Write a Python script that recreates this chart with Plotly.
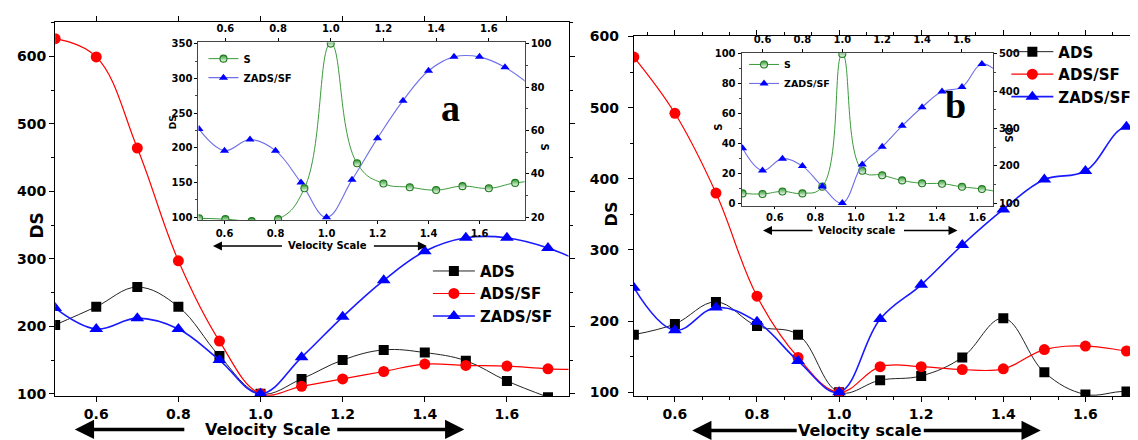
import plotly.graph_objects as go

W, H = 1138, 440

# ---------------- data ----------------
velocity = [0.5, 0.6, 0.7, 0.8, 0.9, 1.0, 1.1, 1.2, 1.3, 1.4, 1.5, 1.6, 1.7, 1.8]

# panel a
a_ads     = [202, 229, 258, 229, 156, 100, 122, 150, 165, 161, 149, 119, 95, None]
a_ads_sf  = [626, 599, 464, 297, 178, 100, 111, 122, 133, 144, 142, 141, 137, 136]
a_zads_sf = [227, 196, 212, 196, 150, 100, 154, 214, 268, 311, 331, 331, 316, 290]
a_s       = [19.6, 19.2, 18.3, 19.2, 33.4, 100, 44.9, 35.6, 33.9, 32.6, 34.4, 33.4, 35.9, 37]

# panel b
b_ads     = [181, 196, 227, 193, 181, 100, 117, 123, 149, 204, 128, 97, 101, 90]
b_ads_sf  = [571, 492, 380, 235, 149, 100, 136, 136, 132, 133, 160, 165, 158, 150]
b_zads_sf = [247, 187, 219, 199, 144, 100, 203, 251, 307, 357, 399, 411, 473, 440]
b_s       = [6.5, 6.1, 7.8, 6.5, 11, 100, 21.7, 18.7, 15.2, 13.3, 13.0, 10.9, 9.4, 7]

main_ticks = [0.6, 0.8, 1.0, 1.2, 1.4, 1.6]
ds_ticks_main = [100, 200, 300, 400, 500, 600]
ds_ticks_inset_a = [100, 150, 200, 250, 300, 350]
s_ticks_inset_a = [20, 40, 60, 80, 100]
s_ticks_inset_b = [0, 20, 40, 60, 80, 100]
ds_ticks_inset_b = [100, 200, 300, 400, 500]

# ---------------- helpers ----------------
def px(p):
    return p / W

def py(p):
    return 1 - p / H

FONT = "DejaVu Sans"
def bfont(size, color="black"):
    return dict(family=FONT, size=size, color=color, weight="bold")

BLACK, RED, BLUE = "#000000", "#ff0000", "#0000ff"
GREEN_LINE, GREEN_FILL = "#3a9a3a", "#2f9a2f"
INSET_BLUE = "#6f6fe8"

fig = go.Figure()

def main_traces(xa, ya, ads, ads_sf, zads, leg):
    fig.add_trace(go.Scatter(x=velocity, y=ads, name="ADS", mode="lines+markers",
                             line=dict(color="#222222", width=1, shape="spline", smoothing=1.1),
                             marker=dict(symbol="square", size=10, color=BLACK),
                             xaxis=xa, yaxis=ya, legend=leg))
    fig.add_trace(go.Scatter(x=velocity, y=ads_sf, name="ADS/SF", mode="lines+markers",
                             line=dict(color=RED, width=1.2, shape="spline", smoothing=1.1),
                             marker=dict(symbol="circle", size=11, color=RED),
                             xaxis=xa, yaxis=ya, legend=leg))
    fig.add_trace(go.Scatter(x=velocity, y=zads, name="ZADS/SF", mode="lines+markers",
                             line=dict(color="#1a1aff", width=1.6, shape="spline", smoothing=1.1),
                             marker=dict(symbol="triangle-up", size=12, color=BLUE),
                             xaxis=xa, yaxis=ya, legend=leg))

main_traces("x", "y", a_ads, a_ads_sf, a_zads_sf, "legend")
main_traces("x2", "y2", b_ads, b_ads_sf, b_zads_sf, "legend2")

def s_trace(xa, ya, s, leg):
    fig.add_trace(go.Scatter(x=velocity, y=s, name="S", mode="lines+markers",
                             line=dict(color=GREEN_LINE, width=1, shape="spline", smoothing=1.3),
                             marker=dict(symbol="circle", size=7, color=GREEN_FILL,
                                         gradient=dict(type="vertical", color="#ffffff"),
                                         line=dict(color="#1f7a1f", width=1.1)),
                             xaxis=xa, yaxis=ya, legend=leg))

def z_trace(xa, ya, z, leg):
    fig.add_trace(go.Scatter(x=velocity, y=z, name="ZADS/SF", mode="lines+markers",
                             line=dict(color=INSET_BLUE, width=1.1, shape="spline", smoothing=1.1),
                             marker=dict(symbol="triangle-up", size=8, color=BLUE),
                             xaxis=xa, yaxis=ya, legend=leg))

# inset a : S on (x4, y4), ZADS/SF on (x3, y3)
s_trace("x4", "y4", a_s, "legend3")
z_trace("x3", "y3", a_zads_sf, "legend3")
# inset b : base axes x5/y5
fig.add_trace(go.Scatter(x=[None], y=[None], xaxis="x5", yaxis="y5", showlegend=False,
                         hoverinfo="skip"))
s_trace("x6", "y5", b_s, "legend4")
z_trace("x6", "y6", b_zads_sf, "legend4")

# ---------------- axes ----------------
def axis(**kw):
    base = dict(showgrid=False, zeroline=False, showline=True, linecolor="black",
                linewidth=1.3, ticks="outside", ticklen=5, tickwidth=1.3,
                tickcolor="black")
    base.update(kw)
    return base

lay = dict(
    width=W, height=H, margin=dict(l=0, r=0, t=0, b=0),
    paper_bgcolor="white", plot_bgcolor="rgba(0,0,0,0)",
    # panel a main
    xaxis=axis(domain=[px(47.3), px(562)], range=[0.5, 1.75], anchor="y",
               tickvals=main_ticks, ticktext=[f"{v:.1f}" for v in main_ticks],
               tickfont=bfont(14), mirror="ticks"),
    yaxis=axis(domain=[py(391.7), py(6)], range=[96.5, 651], anchor="x",
               tickvals=ds_ticks_main, tickfont=bfont(14), mirror="ticks",
               minor=dict(dtick=50, ticks="outside", ticklen=3, tickcolor="black")),
    # panel b main
    xaxis2=axis(domain=[px(627.5), px(1135)], range=[0.5, 1.733], anchor="y2",
                tickvals=main_ticks, ticktext=[f"{v:.1f}" for v in main_ticks],
                tickfont=bfont(14), mirror="ticks",
                minor=dict(dtick=0.2 / 3, tick0=0.6, ticks="outside", ticklen=3,
                           tickcolor="black")),
    yaxis2=axis(domain=[py(391.7), py(20.7)], range=[94.6, 600.5], anchor="x2",
                tickvals=ds_ticks_main, tickfont=bfont(14), mirror="ticks",
                ticklabelstandoff=6,
                minor=dict(dtick=50, ticks="outside", ticklen=3, tickcolor="black")),
    # inset a
    xaxis3=axis(domain=[px(191), px(518)], range=[0.498, 1.777], anchor="y3",
                tickvals=main_ticks, ticktext=[f"{v:.1f}" for v in main_ticks],
                tickfont=bfont(10), ticklen=3, linewidth=1, linecolor="#444",
                ticklabelstandoff=1),
    xaxis4=axis(overlaying="x3", side="top", range=[0.498, 1.736], anchor="y3",
                tickvals=main_ticks, ticktext=[f"{v:.1f}" for v in main_ticks],
                tickfont=bfont(10), ticklen=3, linewidth=1, linecolor="#444",
                ticklabelstandoff=2),
    yaxis3=axis(domain=[py(210.7), py(27.3)], range=[95.5, 351.7], anchor="x3",
                tickvals=ds_ticks_inset_a, tickfont=bfont(10), ticklen=3, linewidth=1,
                linecolor="#444",
                minor=dict(dtick=25, ticks="outside", ticklen=2, tickcolor="#444")),
    yaxis4=axis(overlaying="y3", side="right", range=[18.6, 100.5], anchor="x3",
                tickvals=s_ticks_inset_a, tickfont=bfont(10), ticklen=3, linewidth=1,
                linecolor="#444",
                minor=dict(dtick=10, ticks="outside", ticklen=2, tickcolor="#444")),
    # inset b
    xaxis5=axis(domain=[px(735.5), px(987.5)], range=[0.435, 1.677], anchor="y5",
                tickvals=main_ticks, ticktext=[f"{v:.1f}" for v in main_ticks],
                tickfont=bfont(10), ticklen=2, linewidth=1, linecolor="#444",
                ticklabelstandoff=0),
    xaxis6=axis(overlaying="x5", side="top", range=[0.495, 1.755], anchor="y5",
                tickvals=main_ticks, ticktext=[f"{v:.1f}" for v in main_ticks],
                tickfont=bfont(10), ticklen=3, linewidth=1, linecolor="#444",
                ticklabelstandoff=2),
    yaxis5=axis(domain=[py(196), py(38.3)], range=[-2.1, 100.5], anchor="x5",
                tickvals=s_ticks_inset_b, tickfont=bfont(10), ticklen=3, linewidth=1,
                linecolor="#444",
                minor=dict(dtick=10, ticks="outside", ticklen=2, tickcolor="#444")),
    yaxis6=axis(overlaying="y5", side="right", range=[91.4, 502], anchor="x5",
                tickvals=ds_ticks_inset_b, tickfont=bfont(10), ticklen=3, linewidth=1,
                linecolor="#444",
                minor=dict(dtick=50, ticks="outside", ticklen=2, tickcolor="#444")),
    legend=dict(x=px(421), y=py(246), xanchor="left", yanchor="top",
                font=bfont(15), bgcolor="rgba(0,0,0,0)", itemwidth=42,
                tracegroupgap=0),
    legend2=dict(x=px(1001), y=py(20), xanchor="left", yanchor="top",
                 font=bfont(15), bgcolor="rgba(0,0,0,0)", itemwidth=42,
                 tracegroupgap=0),
    legend3=dict(x=px(196), y=py(29), xanchor="left", yanchor="top",
                 font=bfont(10), bgcolor="rgba(0,0,0,0)", itemwidth=30,
                 tracegroupgap=0),
    legend4=dict(x=px(738), y=py(35), xanchor="left", yanchor="top",
                 font=bfont(9.5), bgcolor="rgba(0,0,0,0)", itemwidth=30,
                 tracegroupgap=0),
    showlegend=True,
)
fig.update_layout(**lay)

# ---------------- text & arrows ----------------
ann = []
def text(x, y, t, size, angle=0, fam=None, weight="bold"):
    f = bfont(size)
    if fam:
        f["family"] = fam
    f["weight"] = weight
    ann.append(dict(x=px(x), y=py(y), xref="paper", yref="paper", text=t,
                    showarrow=False, font=f, textangle=angle,
                    xanchor="center", yanchor="middle"))

def arrow(tip_x, tail_x, y, width, size):
    ann.append(dict(x=px(tip_x), y=py(y), xref="paper", yref="paper",
                    ax=tail_x - tip_x, ay=0, axref="pixel", ayref="pixel",
                    showarrow=True, arrowhead=2, arrowsize=size, arrowwidth=width,
                    arrowcolor="black", text=""))

# panel a
text(261, 426, "Velocity Scale", 16)
arrow(67, 178, 426, 3.5, 1.1)
arrow(457.5, 329, 426, 3.5, 1.1)
text(29, 216, "DS", 17, angle=-90)
text(443.6, 95, "a", 38, fam="Liberation Serif")
# inset a
text(320, 237, "Velocity Scale", 10)
arrow(205.5, 276, 237, 1.5, 1.2)
arrow(420, 365.5, 237, 1.5, 1.2)
text(165, 110, "DS", 9, angle=-90)
text(538, 135, "S", 10, angle=90)

# panel b
text(854.5, 427, "Velocity scale", 16)
arrow(686, 792, 427, 3.5, 1.1)
arrow(1035.5, 917, 427, 3.5, 1.1)
text(606, 204, "DS", 16, angle=-90)
text(950, 92, "b", 38, fam="Liberation Serif")
# inset b
text(851, 221, "Velocity scale", 10)
arrow(757, 808, 221, 1.5, 1.2)
arrow(952, 897, 221, 1.5, 1.2)
text(712, 115, "S", 10, angle=-90)
text(1003, 123, "DS", 10, angle=90)

fig.update_layout(annotations=ann)

fig.write_html("out.html")
